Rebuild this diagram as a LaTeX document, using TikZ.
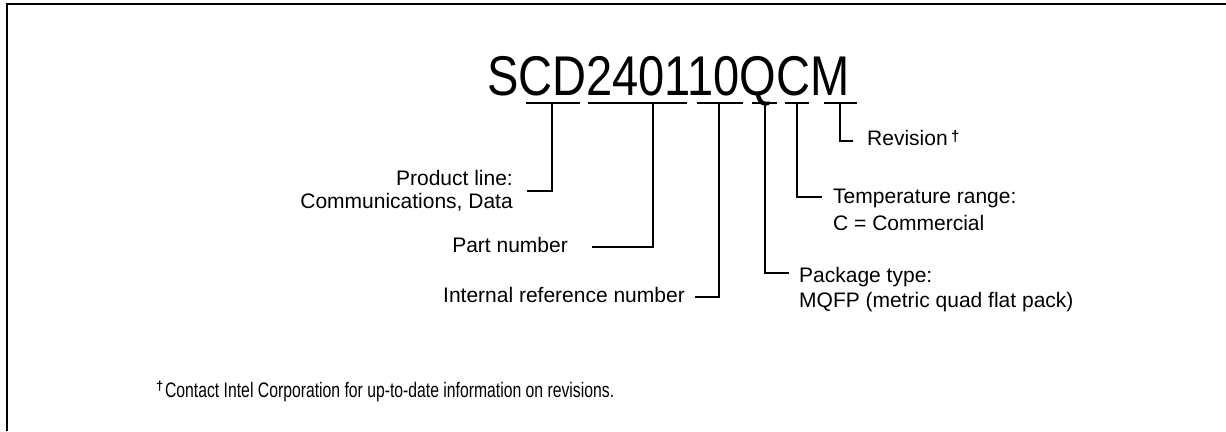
\documentclass[tikz,border=0pt]{standalone}
\usepackage{fontspec}
\setmainfont{Liberation Sans}
\newfontfamily\titlefont[FakeStretch=0.84]{Liberation Sans}
\newfontfamily\footfont[FakeStretch=0.75]{Liberation Sans}
\newcommand{\dg}{\raisebox{4pt}{\fontsize{15}{15}\selectfont\bfseries\char"2020}}
\begin{document}
\begin{tikzpicture}[x=1pt,y=-1pt,
  lbl/.style={inner sep=0pt,font=\fontsize{21}{21}\selectfont},
  conn/.style={line width=2.8pt,line join=miter},
  frame/.style={line width=2.3pt}]
\useasboundingbox (0,0) rectangle (1226,431);
\draw[frame] (7,431) -- (7,4) -- (1226,4);
% title
\node[inner sep=0pt,anchor=base west] (title) at (487,95) {\titlefont\fontsize{56}{56}\selectfont SCD240110QCM};
% underlines
\draw[conn] (526,103) -- (580,103);
\draw[conn] (588,103) -- (687,103);
\draw[conn] (697,103) -- (743,103);
\draw[conn] (752,103) -- (777,103);
\draw[conn] (785,103) -- (809,103);
\draw[conn] (824,103) -- (857,103);
\coordinate (u1) at (552,103);
\coordinate (u2) at (653,103);
\coordinate (u3) at (719,103);
\coordinate (u4) at (765,103);
\coordinate (u5) at (797,103);
\coordinate (u6) at (840,103);
% labels
\node[lbl,anchor=base east] (pl1) at (513,185) {Product line:};
\node[lbl,anchor=base east] (pl2) at (513,208) {Communications, Data};
\node[lbl,anchor=base east] (pn) at (568,252) {Part number};
\node[lbl,anchor=base east] (irn) at (685,302) {Internal reference number};
\node[lbl,anchor=base west] (pt1) at (799,282) {Package type:};
\node[lbl,anchor=base west] (pt2) at (799,307) {MQFP (metric quad flat pack)};
\node[lbl,anchor=base west] (tr1) at (833,203) {Temperature range:};
\node[lbl,anchor=base west] (tr2) at (833,230) {C = Commercial};
\node[lbl,anchor=base west] (rev) at (867,145) {Revision\,\dg};
% connector ends
\coordinate (e1) at (527,191);
\coordinate (e2) at (592,247);
\coordinate (e3) at (695,297);
\coordinate (e4) at (789,273);
\coordinate (e5) at (822,197);
\coordinate (e6) at (853,141);
\draw[conn] (u1) |- (e1);
\draw[conn] (u2) |- (e2);
\draw[conn] (u3) |- (e3);
\draw[conn] (u4) |- (e4);
\draw[conn] (u5) |- (e5);
\draw[conn] (u6) |- (e6);
% footnote
\node[inner sep=0pt,anchor=base west] (fn) at (156,397) {\raisebox{7pt}{\fontsize{13}{13}\selectfont\bfseries\char"2020}\,\footfont\fontsize{21}{21}\selectfont Contact Intel Corporation for up-to-date information on revisions.};
\end{tikzpicture}
\end{document}
